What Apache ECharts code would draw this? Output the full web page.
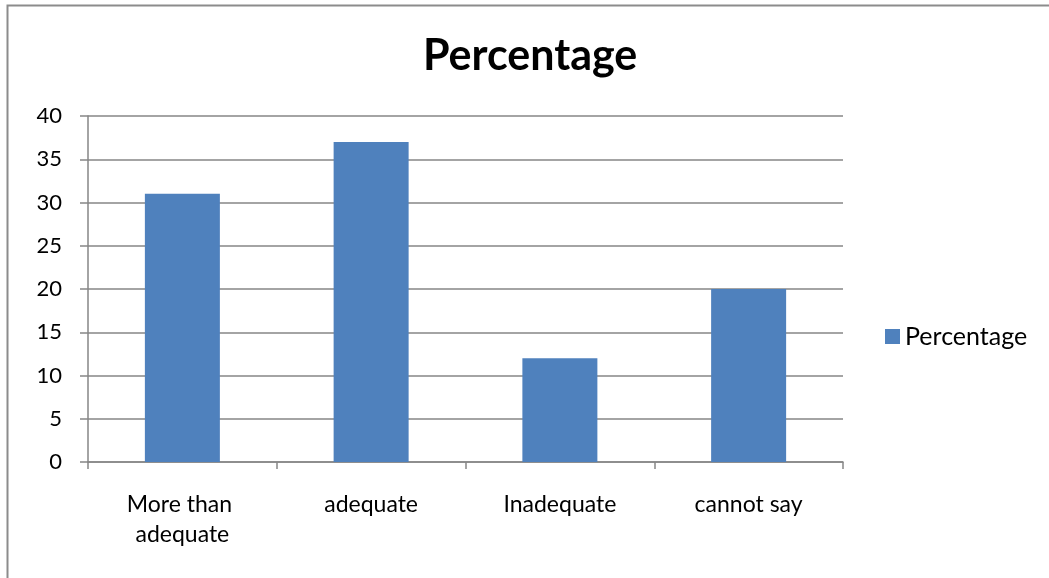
<!DOCTYPE html>
<html>
<head>
<meta charset="utf-8">
<style>
  html, body { margin: 0; padding: 0; background: #ffffff; }
  #chart { width: 1049px; height: 578px; }
</style>
<script src="https://cdn.jsdelivr.net/npm/echarts@6/dist/echarts.min.js"></script>
</head>
<body>
<div id="chart"></div>
<script>
// Survey responses: share of respondents per rating
const categories = ['More than adequate', 'adequate', 'Inadequate', 'cannot say'];
const percentages = [31, 37, 12, 20];
const seriesName = 'Percentage';
const yTicks = { min: 0, max: 40, interval: 5 };

const FONT = 'Lato, "Open Sans", sans-serif';
const GRID_GRAY = '#868686';
const BAR_BLUE = '#4F81BD';

const chart = echarts.init(document.getElementById('chart'), null, { renderer: 'canvas' });

chart.setOption({
  animation: false,
  backgroundColor: '#ffffff',
  graphic: [{
    type: 'rect',
    shape: { x: 7.5, y: 5.5, width: 1060, height: 600 },
    style: { fill: 'none', stroke: '#8c8c8c', lineWidth: 2 },
    silent: true
  }],
  title: {
    text: seriesName,
    left: 418,
    top: 30,
    textStyle: { fontFamily: FONT, fontWeight: 'bold', fontSize: 43, color: '#000000' }
  },
  legend: {
    data: [seriesName],
    orient: 'vertical',
    left: 880,
    top: 319,
    itemWidth: 15,
    itemHeight: 15,
    icon: 'rect',
    textStyle: { fontFamily: FONT, fontSize: 25, color: '#000000' }
  },
  grid: { left: 88, right: 206, top: 116, bottom: 116, containLabel: false },
  xAxis: {
    type: 'category',
    data: categories,
    axisLine: { lineStyle: { color: GRID_GRAY, width: 1.5 } },
    axisTick: { show: true, length: 7, lineStyle: { color: GRID_GRAY, width: 1.5 } },
    axisLabel: {
      interval: 0,
      fontFamily: FONT, fontSize: 23, color: '#000000',
      margin: 28, lineHeight: 30,
      width: 150, overflow: 'break'
    }
  },
  yAxis: {
    type: 'value',
    min: yTicks.min,
    max: yTicks.max,
    interval: yTicks.interval,
    axisLine: { show: true, lineStyle: { color: GRID_GRAY, width: 1.5 } },
    axisTick: { show: true, length: 8, lineStyle: { color: GRID_GRAY, width: 1.5 } },
    splitLine: { lineStyle: { color: GRID_GRAY, width: 1.5 } },
    axisLabel: { fontFamily: FONT, fontSize: 22, color: '#000000', margin: 26 }
  },
  series: [{
    name: seriesName,
    type: 'bar',
    data: percentages,
    barWidth: 75,
    itemStyle: { color: BAR_BLUE }
  }]
});
</script>
</body>
</html>
